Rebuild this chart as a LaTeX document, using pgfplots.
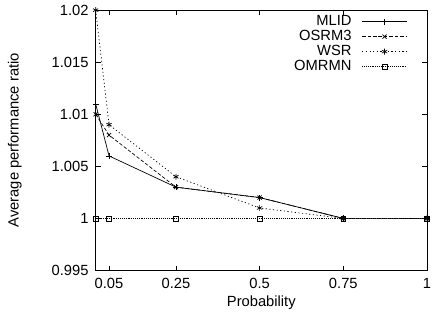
\documentclass[border=0pt]{standalone}
\usepackage{fontspec}
\setmainfont{Liberation Sans}
\usepackage{pgfplots}
\pgfplotsset{compat=1.18}
\begin{document}
\fontsize{15}{15}\selectfont
\begin{tikzpicture}
\begin{axis}[
  scale only axis, width=336bp, height=264bp,
  xmin=0.01, xmax=1, ymin=0.995, ymax=1.02,
  xtick={0.05,0.25,0.5,0.75,1},
  xticklabels={0.05,0.25,0.5,0.75,1},
  ytick={0.995,1,1.005,1.01,1.015,1.02},
  yticklabels={0.995,1,1.005,1.01,1.015,1.02},
  tick align=inside, tick pos=both,
  major tick length=5bp,
  axis line style={line width=1pt},
  every tick/.style={black, line width=0.8pt},
  ticklabel style={font=\fontsize{15}{15}\selectfont},
  xticklabel style={yshift=-3bp},
  yticklabel style={xshift=-2bp},
  label style={font=\fontsize{15}{15}\selectfont},
  xlabel={Probability}, ylabel={Average performance ratio},
  xlabel style={at={(axis description cs:0.5,-0.125)}, anchor=center},
  ylabel style={at={(axis description cs:-0.244,0.5)}, anchor=center},
  /pgf/number format/assume math mode=true,
  legend plot pos=right,
  legend cell align=right,
  legend style={draw=none, fill=none, at={(axis description cs:0.95,0.995)}, anchor=north east, row sep=-1.5pt, font=\fontsize{15}{15}\selectfont},
  legend image code/.code={\path (0cm,0cm); \draw[mark repeat=2,mark phase=2] plot coordinates {(0.3cm,0cm) (1.1cm,0cm) (1.9cm,0cm)};},
  every axis plot/.append style={black, line width=0.7pt, mark size=3pt},
]
\addplot[solid, mark=+, mark options={solid}] coordinates {(0.01,1.011) (0.05,1.006) (0.25,1.003) (0.5,1.002) (0.75,1) (1,1)};
\addlegendentry{MLID}
\addplot[dash pattern=on 3.5bp off 2bp, mark=x, mark options={solid}] coordinates {(0.01,1.010) (0.05,1.008) (0.25,1.003) (0.5,1.002) (0.75,1) (1,1)};
\addlegendentry{OSRM3}
\addplot[dash pattern=on 1.2bp off 2.5bp, mark=asterisk, mark options={solid}] coordinates {(0.01,1.02) (0.05,1.009) (0.25,1.004) (0.5,1.001) (0.75,1) (1,1)};
\addlegendentry{WSR}
\addplot[dash pattern=on 0.7bp off 1.2bp, line width=0.6pt, mark=square, mark size=2.5pt, mark options={solid}] coordinates {(0.01,1) (0.05,1) (0.25,1) (0.5,1) (0.75,1) (1,1)};
\addlegendentry{OMRMN}
\end{axis}
\path (current axis.south west) ++(-97bp,-49bp) rectangle ++(436bp,322bp);
\end{tikzpicture}
\end{document}
